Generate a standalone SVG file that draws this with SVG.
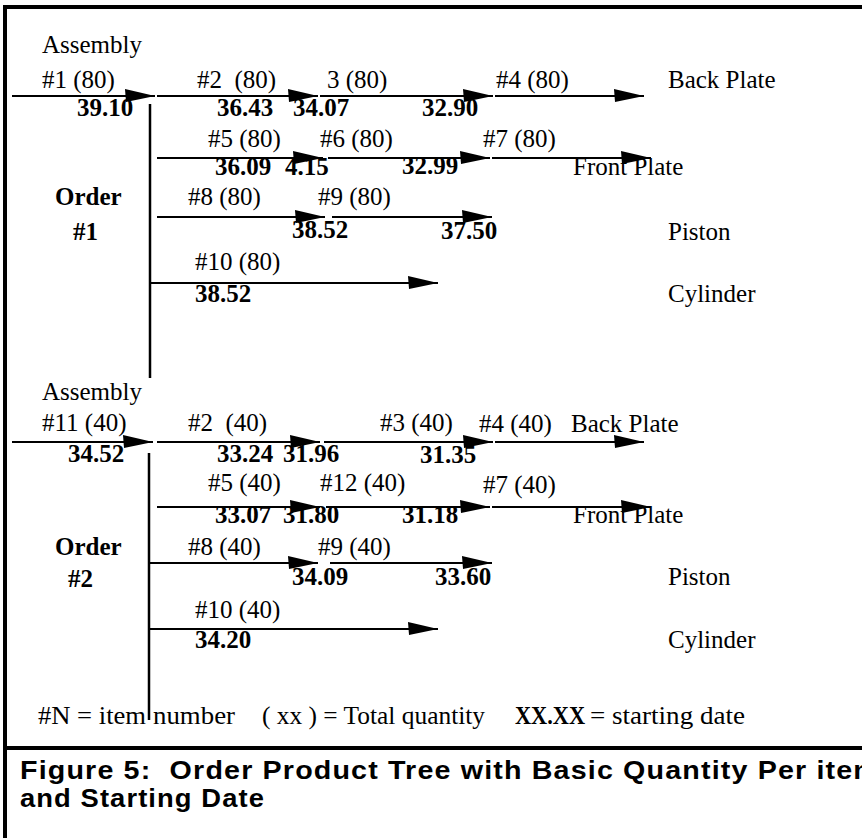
<svg xmlns="http://www.w3.org/2000/svg" width="862" height="838" viewBox="0 0 862 838">
<style>
.t{font-family:"Liberation Serif","Times New Roman",serif;font-size:25px;fill:#000;white-space:pre}
.b{font-family:"Liberation Serif","Times New Roman",serif;font-size:25px;font-weight:bold;fill:#000;white-space:pre}
.cap{font-family:"Liberation Sans","Arial",sans-serif;font-size:25px;font-weight:bold;fill:#000;letter-spacing:1px;white-space:pre}
.ln{stroke:#000;stroke-width:2;fill:none}
.vl{stroke:#000;stroke-width:2.5;fill:none}
.frame{stroke:#000;stroke-width:4;fill:none}
</style>
<defs>
<marker id="ah" markerUnits="userSpaceOnUse" markerWidth="32" markerHeight="16" refX="30" refY="8" orient="auto" overflow="visible">
<path d="M30,8 L0,1 L1,14 Z" fill="#000"/>
</marker>
</defs>
<rect width="862" height="838" fill="#fff"/>
<g id="frame">
<line class="frame" x1="5" y1="7" x2="862" y2="7"/>
<line class="frame" x1="5" y1="5" x2="5" y2="838"/>
<line class="frame" x1="5" y1="748" x2="862" y2="748"/>
</g>
<g id="connectors">
<!-- Order 1 -->
<line class="vl" x1="150" y1="104" x2="150" y2="378"/>
<line class="ln" x1="12" y1="96" x2="155" y2="96" marker-end="url(#ah)"/>
<line class="ln" x1="157" y1="96" x2="318" y2="96" marker-end="url(#ah)"/>
<line class="ln" x1="320" y1="96" x2="493" y2="96" marker-end="url(#ah)"/>
<line class="ln" x1="495" y1="96" x2="644" y2="96" marker-end="url(#ah)"/>
<line class="ln" x1="157" y1="158" x2="323" y2="158" marker-end="url(#ah)"/>
<line class="ln" x1="328" y1="158" x2="490" y2="158" marker-end="url(#ah)"/>
<line class="ln" x1="492" y1="158" x2="651" y2="158" marker-end="url(#ah)"/>
<line class="ln" x1="157" y1="217" x2="325" y2="217" marker-end="url(#ah)"/>
<line class="ln" x1="332" y1="217" x2="492" y2="217" marker-end="url(#ah)"/>
<line class="ln" x1="150" y1="283" x2="438" y2="283" marker-end="url(#ah)"/>
<!-- Order 2 -->
<line class="vl" x1="149" y1="453" x2="149" y2="720"/>
<line class="ln" x1="12" y1="442" x2="153" y2="442" marker-end="url(#ah)"/>
<line class="ln" x1="157" y1="442" x2="320" y2="442" marker-end="url(#ah)"/>
<line class="ln" x1="324" y1="442" x2="493" y2="442" marker-end="url(#ah)"/>
<line class="ln" x1="495" y1="442" x2="644" y2="442" marker-end="url(#ah)"/>
<line class="ln" x1="157" y1="507" x2="320" y2="507" marker-end="url(#ah)"/>
<line class="ln" x1="326" y1="507" x2="490" y2="507" marker-end="url(#ah)"/>
<line class="ln" x1="492" y1="507" x2="651" y2="507" marker-end="url(#ah)"/>
<line class="ln" x1="150" y1="563" x2="318" y2="563" marker-end="url(#ah)"/>
<line class="ln" x1="330" y1="563" x2="492" y2="563" marker-end="url(#ah)"/>
<line class="ln" x1="150" y1="629" x2="438" y2="629" marker-end="url(#ah)"/>
</g>
<!-- Order 1 nodes -->
<g id="order1">
<text class="b" x="55" y="205">Order</text>
<text class="b" x="73" y="240">#1</text>
</g>
<g id="o1-item1">
<text class="t" x="42" y="53">Assembly</text>
<text class="t" x="42" y="88">#1 (80)</text>
<text class="b" x="77" y="116">39.10</text>
</g>
<g id="o1-item2"><text class="t" x="197" y="88">#2  (80)</text><text class="b" x="217" y="116">36.43</text></g>
<g id="o1-item3"><text class="t" x="327" y="88">3 (80)</text><text class="b" x="293" y="116">34.07</text></g>
<g id="o1-item4"><text class="t" x="496" y="88">#4 (80)</text><text class="b" x="422" y="116">32.90</text></g>
<g id="o1-backplate"><text class="t" x="668" y="88">Back Plate</text></g>
<g id="o1-item5"><text class="t" x="208" y="147">#5 (80)</text><text class="b" x="215" y="175">36.09</text></g>
<g id="o1-item6"><text class="t" x="320" y="147">#6 (80)</text><text class="b" x="285" y="175">4.15</text></g>
<g id="o1-item7"><text class="t" x="483" y="147">#7 (80)</text><text class="b" x="402" y="174">32.99</text></g>
<g id="o1-frontplate"><text class="t" x="573" y="175">Front Plate</text></g>
<g id="o1-item8"><text class="t" x="188" y="205">#8 (80)</text><text class="b" x="292" y="238">38.52</text></g>
<g id="o1-item9"><text class="t" x="318" y="205">#9 (80)</text><text class="b" x="441" y="239">37.50</text></g>
<g id="o1-piston"><text class="t" x="668" y="240">Piston</text></g>
<g id="o1-item10"><text class="t" x="195" y="270">#10 (80)</text><text class="b" x="195" y="302">38.52</text></g>
<g id="o1-cylinder"><text class="t" x="668" y="302">Cylinder</text></g>
<!-- Order 2 nodes -->
<g id="order2">
<text class="b" x="55" y="555">Order</text>
<text class="b" x="68" y="587">#2</text>
</g>
<g id="o2-item11">
<text class="t" x="42" y="400">Assembly</text>
<text class="t" x="42" y="431">#11 (40)</text>
<text class="b" x="68" y="462">34.52</text>
</g>
<g id="o2-item2"><text class="t" x="188" y="431">#2  (40)</text><text class="b" x="217" y="462">33.24</text></g>
<g id="o2-item3"><text class="t" x="380" y="431">#3 (40)</text><text class="b" x="283" y="462">31.96</text></g>
<g id="o2-item4"><text class="t" x="479" y="432">#4 (40)</text><text class="b" x="420" y="463">31.35</text></g>
<g id="o2-backplate"><text class="t" x="571" y="432">Back Plate</text></g>
<g id="o2-item5"><text class="t" x="208" y="491">#5 (40)</text><text class="b" x="215" y="523">33.07</text></g>
<g id="o2-item12"><text class="t" x="320" y="491">#12 (40)</text><text class="b" x="283" y="523">31.80</text></g>
<g id="o2-item7"><text class="t" x="483" y="493">#7 (40)</text><text class="b" x="402" y="523">31.18</text></g>
<g id="o2-frontplate"><text class="t" x="573" y="523">Front Plate</text></g>
<g id="o2-item8"><text class="t" x="188" y="555">#8 (40)</text><text class="b" x="292" y="585">34.09</text></g>
<g id="o2-item9"><text class="t" x="318" y="555">#9 (40)</text><text class="b" x="435" y="585">33.60</text></g>
<g id="o2-piston"><text class="t" x="668" y="585">Piston</text></g>
<g id="o2-item10"><text class="t" x="195" y="618">#10 (40)</text><text class="b" x="195" y="648">34.20</text></g>
<g id="o2-cylinder"><text class="t" x="668" y="648">Cylinder</text></g>
<!-- Legend -->
<g id="legend">
<text class="t" x="38" y="724" textLength="108" lengthAdjust="spacingAndGlyphs">#N = item</text>
<text class="t" x="153" y="724" textLength="82" lengthAdjust="spacingAndGlyphs">number</text>
<text class="t" x="262" y="724" textLength="223" lengthAdjust="spacingAndGlyphs">( xx ) = Total quantity</text>
<text class="b" x="515" y="724" textLength="70" lengthAdjust="spacingAndGlyphs">XX.XX</text>
<text class="t" x="590" y="724" textLength="155" lengthAdjust="spacingAndGlyphs">= starting date</text>
</g>
<g id="caption">
<text class="cap" x="20" y="779" textLength="860" lengthAdjust="spacingAndGlyphs">Figure 5:  Order Product Tree with Basic Quantity Per item</text>
<text class="cap" x="20" y="807" textLength="245" lengthAdjust="spacingAndGlyphs">and Starting Date</text>
</g>
</svg>
